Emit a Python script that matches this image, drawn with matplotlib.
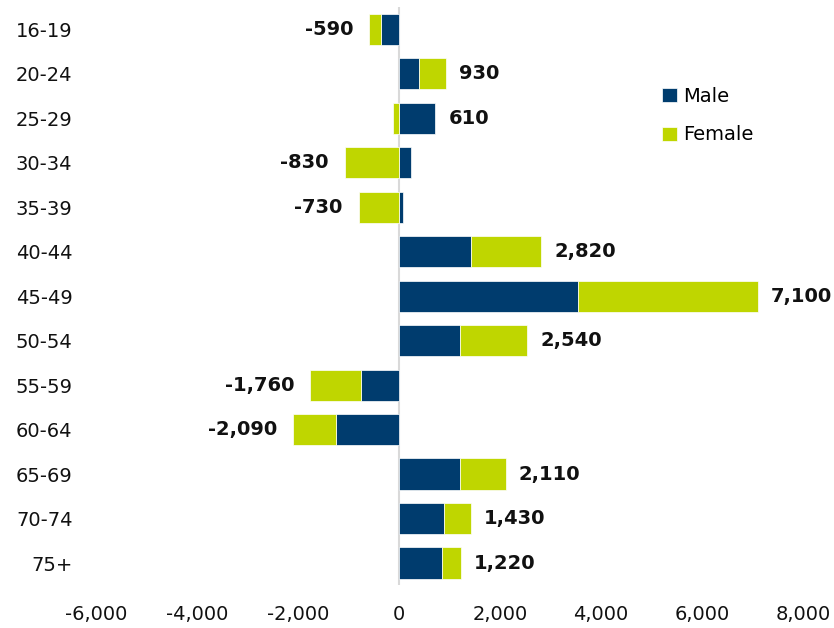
import matplotlib.pyplot as plt
from matplotlib.ticker import FuncFormatter

# data
age_groups = ['16-19', '20-24', '25-29', '30-34', '35-39', '40-44', '45-49',
              '50-54', '55-59', '60-64', '65-69', '70-74', '75+']
male = [-350, 400, 720, 240, 70, 1430, 3540, 1210, -750, -1250, 1210, 890, 850]
female = [-240, 530, -110, -1070, -800, 1390, 3560, 1330, -1010, -840, 900, 540, 370]
totals = [-590, 930, 610, -830, -730, 2820, 7100, 2540, -1760, -2090, 2110, 1430, 1220]

MALE_COLOR = '#003C6E'
FEMALE_COLOR = '#BFD600'


def main():
    plt.rcParams['font.family'] = ['DejaVu Sans']
    fig = plt.figure(figsize=(8.34, 6.28), dpi=100)
    ax = fig.add_axes([0.1151, 0.068, 0.8477, 0.921])

    y = list(range(len(age_groups)))
    # female stacks on top of male when both have the same sign
    female_left = [m if (m * f) > 0 else 0 for m, f in zip(male, female)]

    ax.axvline(0, color='#D9D9D9', linewidth=1.5, zorder=0)
    ax.barh(y, male, height=0.7, color=MALE_COLOR, edgecolor='white',
            linewidth=0.5, label='Male', zorder=2)
    ax.barh(y, female, left=female_left, height=0.7, color=FEMALE_COLOR,
            edgecolor='white', linewidth=0.5, label='Female', zorder=2)

    # total labels at the outer end of each bar
    for i, t in enumerate(totals):
        pos_end = sum(v for v in (male[i], female[i]) if v > 0)
        neg_end = sum(v for v in (male[i], female[i]) if v < 0)
        if t >= 0:
            ax.annotate(f'{t:,}', xy=(pos_end, i), xytext=(13, 0),
                        textcoords='offset pixels', ha='left', va='center',
                        fontsize=14, fontweight='bold', color='#111111')
        else:
            ax.annotate(f'{t:,}', xy=(neg_end, i), xytext=(-16, 0),
                        textcoords='offset pixels', ha='right', va='center',
                        fontsize=14, fontweight='bold', color='#111111')

    ax.set_xlim(-6000, 8000)
    ax.set_ylim(len(age_groups) - 0.5, -0.5)
    ax.set_xticks(range(-6000, 8001, 2000))
    ax.xaxis.set_major_formatter(FuncFormatter(lambda v, p: f'{int(v):,}'))
    ax.set_yticks(y)
    ax.set_yticklabels(age_groups)
    ax.tick_params(axis='both', length=0, labelsize=14, colors='#111111')
    ax.tick_params(axis='x', pad=14)
    ax.tick_params(axis='y', pad=17)
    for s in ax.spines.values():
        s.set_visible(False)

    ax.legend(loc='upper left', bbox_to_anchor=(0.79, 0.875), frameon=False,
              fontsize=14, handlelength=0.75, handleheight=0.75,
              handletextpad=0.3, labelspacing=1.0, borderaxespad=0)

    fig.savefig('out.png', dpi=100)


if __name__ == '__main__':
    main()
